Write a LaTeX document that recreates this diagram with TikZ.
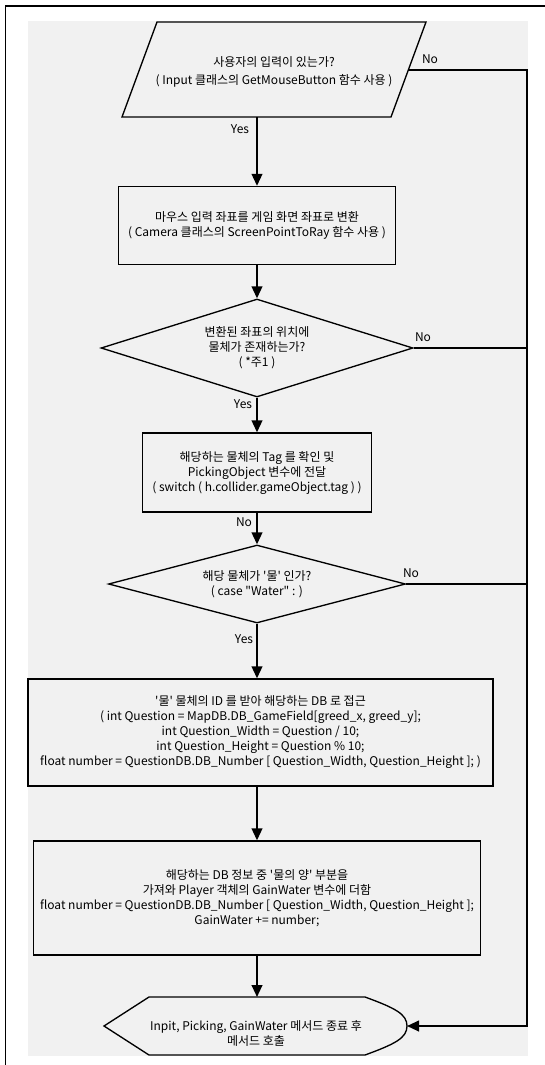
\documentclass[tikz,border=0pt]{standalone}
\usepackage{fontspec}
\setmainfont{Noto Sans CJK KR}[Ligatures=TeXOff]
\usetikzlibrary{shapes.geometric,arrows.meta}

\definecolor{paper}{RGB}{241,241,241}
\tikzset{
   box/.style={draw, line width=1pt, inner sep=0pt, align=center},
   decision/.style={box, diamond, aspect=3.5},
   flow/.style={line width=1.5pt, -{Triangle[length=9pt,width=8pt]}},
   rail/.style={line width=1.5pt},
   answer/.style={inner sep=0pt}
}

\begin{document}
\begin{tikzpicture}[x=0.75pt, y=-0.75pt, font=\fontsize{9}{11.25}\selectfont]
   \useasboundingbox (0,0) rectangle (545,1065);
   % Frame and background
   \fill[paper] (28,21) rectangle (528,1056);
   \draw[line width=1pt] (545,6) -- (5.5,6) -- (5.5,1065);
   % Shapes
   \draw[line width=1pt] (157,22) -- (426,22) -- (391,117) -- (122,117) -- cycle;
   \node [align=center, inner sep=0pt] (input) at (274,72)
      {사용자의 입력이 있는가?\\[2pt]( Input 클래스의 GetMouseButton 함수 사용 )};
   \coordinate (inputS) at (257,117);
   \coordinate (inputE) at (408,70);
   \node [box, minimum width=207.75pt, minimum height=58.5pt] (convert) at (257,225.5)
      {마우스 입력 좌표를 게임 화면 좌표로 변환\\( Camera 클래스의 ScreenPointToRay 함수 사용 )};
   \node [decision, minimum width=234pt, minimum height=73.5pt] (hit) at (257,348)
      {변환된 좌표의 위치에\\물체가 존재하는가?\\( *주1 )};
   \node [box, minimum width=171.75pt, minimum height=59.25pt] (tag) at (257,472.5)
      {해당하는 물체의 Tag 를 확인 및\\PickingObject 변수에 전달\\( switch ( h.collider.gameObject.tag ) )};
   \node [decision, minimum width=222.75pt, minimum height=58.5pt] (water) at (257,584)
      {해당 물체가 '물' 인가?\\( case "Water" : )};
   \node [box, minimum width=348.75pt, minimum height=80.25pt] (readdb) at (260.5,732.5)
      {'물' 물체의 ID 를 받아 해당하는 DB 로 접근\\
       ( int Question = MapDB.DB\_GameField[greed\_x, greed\_y];\\
       int Question\_Width = Question / 10;\\
       int Question\_Height = Question \% 10;\\
       float number = QuestionDB.DB\_Number [ Question\_Width, Question\_Height ]; )};
   \node [box, minimum width=335pt, minimum height=85.5pt] (addwater) at (257,898)
      {해당하는 DB 정보 중 '물의 양' 부분을\\
       가져와 Player 객체의 GainWater 변수에 더함\\
       float number = QuestionDB.DB\_Number [ Question\_Width, Question\_Height ];\\
       GainWater += number;};
   \node [align=center, inner sep=0pt] (done) at (256,1033)
      {Inpit, Picking, GainWater 메서드 종료 후\\메서드 호출};
   \draw[line width=1pt] (104,1026) -- (149,997) -- (365,997)
      .. controls (395,1008) and (407,1014) .. (407,1026)
      .. controls (407,1038) and (395,1044) .. (365,1055) -- (149,1055) -- cycle;
   \coordinate (doneN) at (257,997);
   \coordinate (doneR) at (407,1026);
   % Yes path
   \draw[flow] (inputS) -- (convert.north);
   \draw[flow] (convert) -- (hit);
   \draw[flow] (hit) -- (tag);
   \draw[flow] (tag) -- (water);
   \draw[flow] (water) -- (water |- readdb.north);
   \draw[flow] (readdb.south -| addwater) -- (addwater);
   \draw[flow] (addwater.south) -- (doneN);
   % No path
   \coordinate (railTop) at (527,70);
   \draw[flow] (inputE) -- (railTop) |- (doneR);
   \foreach \d in {hit, water}
      \draw[rail] (\d.east) -- (\d.east -| railTop);
   % Labels
   \node [answer] (yes1) at (240,129) {Yes};
   \node [answer] (no1) at (430,59) {No};
   \node [answer] (no2) at (423,337) {No};
   \node [answer] (yes2) at (243,404) {Yes};
   \node [answer] (no3) at (244,522) {No};
   \node [answer] (no4) at (411,573) {No};
   \node [answer] (yes3) at (244,639) {Yes};
\end{tikzpicture}
\end{document}
